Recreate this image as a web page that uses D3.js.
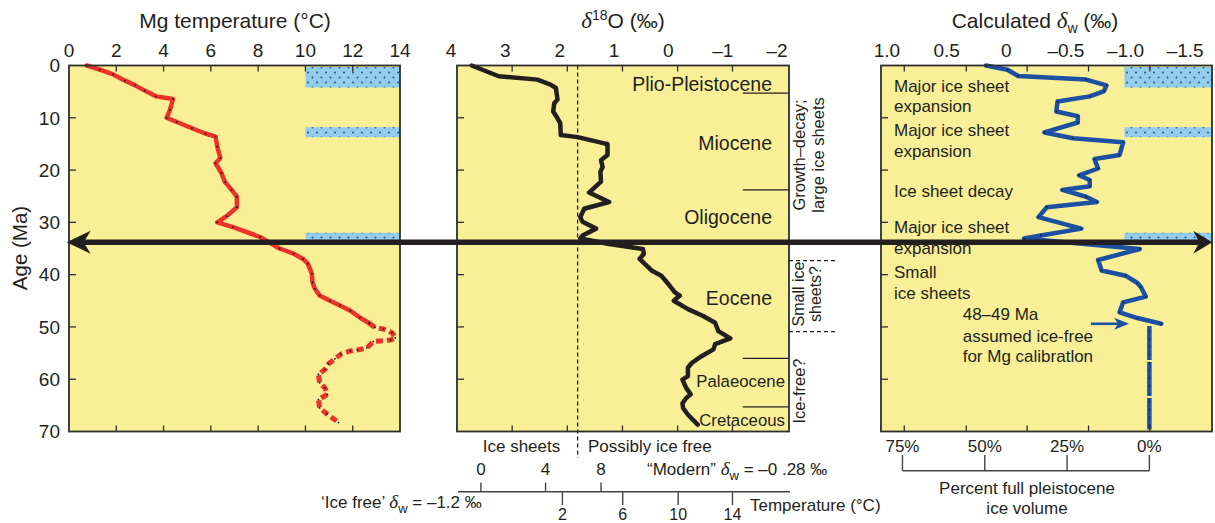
<!DOCTYPE html>
<html><head><meta charset="utf-8">
<script src="https://cdn.jsdelivr.net/npm/d3@7"></script>
<style>
body{margin:0;background:#fff}
svg{display:block}
text{font-family:"Liberation Sans",Arial,Helvetica,sans-serif;fill:#231f20}
.gr{font-family:"Liberation Serif","Times New Roman",serif;font-style:italic}
</style>
</head><body>
<svg id="c" width="1215" height="523"></svg>
<script>
// ---------------- DATA ----------------
const ageTicks = [0,10,20,30,40,50,60,70];
const mgTickLabels = [0,2,4,6,8,10,12,14];
const mgInnerTicks = [2,4,6,8,10,12];
const d18TickLabels = [4,3,2,1,0,-1,-2];
const d18TickMarks = [2.875,1.86,0.845,-0.17,-1.18];
const dwTickLabels = [1.0,0.5,0,-0.5,-1.0,-1.5];
const dwTickMarks = [0.855,0.335,-0.175,-0.69,-1.205];

// Mg temperature (age Ma, temperature °C)
const mgAge = [0,0.8,1.7,2.9,3.8,4.8,5.9,6.4,8.5,10,10.8,12,13,13.6,15.5,17.7,18.7,20.6,22.3,23.8,25.1,27.1,28.8,30,30.9,32.8,35,36,37,37.9,39.8,41.5,42.7,44,45,45.9,46.9,48.2,49.3];
const mgTemp = [0.75,1.3,1.87,2.37,2.8,3.2,3.68,4.4,4.27,4.13,4.56,5.2,5.76,6.2,6.27,6.4,6.2,6.45,6.6,6.88,7.1,7.1,6.67,6.27,6.94,8.08,8.9,9.5,9.9,10.1,10.27,10.3,10.4,10.6,11.04,11.46,11.9,12.3,12.7];
const mgAgeDashed = [49.3,50.1,50.4,51.1,52.1,52.5,52.8,54,54.4,54.6,55.2,56.1,57.1,58.1,59.1,60.7,61.7,62.9,63.9,65.5,66.6,68.3];
const mgTempDashed = [12.7,12.94,13.3,13.66,13.8,13.6,12.87,12.6,12.2,11.9,11.5,11.25,10.97,10.83,10.55,10.6,10.83,10.93,10.55,10.6,10.9,11.4];

// benthic d18O (age Ma, permil)
const d18Age = [0,2.05,2.7,3.65,4.3,6.5,7.2,8.8,10.1,11,13.3,13.7,14.9,15,17.1,18.1,19.4,20.3,22.2,24.3,26.1,27.4,29,29.9,31.2,32.5,33.1,34.1,35.1,36,37,39.2,40.2,41.8,43.4,44,45,46.6,47.9,49.2,50.8,52.2,53.3,54.3,55.6,56.9,57.8,59.4,60.1,61.7,62.9,63.6,64.6,65.5,66.8,68.7];
const d18Val = [3.62,3.12,2.41,2.17,2.07,2.04,2.1,2.12,2.04,1.99,1.98,1.67,1.18,1.12,1.12,1.24,1.21,1.25,1.24,1.46,1.09,1.55,1.62,1.58,1.33,1.58,1.62,1.12,0.47,0.45,0.53,0.31,0.13,0.0,-0.12,-0.21,-0.1,-0.36,-0.64,-0.86,-0.92,-1.14,-0.86,-0.83,-0.61,-0.43,-0.36,-0.36,-0.26,-0.33,-0.41,-0.33,-0.26,-0.27,-0.36,-0.54];
const iceFreeD18 = 1.67;

// calculated dw (age Ma, permil)
const dwAge = [0,0.8,2,2.7,3.8,4.9,5.9,6.9,8.8,9.7,10.9,12.8,13.9,14.7,17.1,17.9,19.7,21,21.9,23.1,23.8,25.1,26.1,27.1,29,31.2,32.5,33.1,35.1,37.2,39.2,40.2,41.6,42.4,44.2,45.3,47.2,48.3,49.4];
const dwVal = [0.17,-0.01,-0.1,-0.67,-0.84,-0.82,-0.70,-0.43,-0.42,-0.6,-0.6,-0.32,-0.56,-0.98,-0.95,-0.74,-0.77,-0.61,-0.70,-0.70,-0.47,-0.67,-0.76,-0.34,-0.27,-0.63,-0.29,-0.15,-1.12,-0.77,-0.8,-1.0,-1.1,-1.13,-1.17,-0.98,-0.95,-1.1,-1.3];
const dwIceFreeAge = [49.8,69.6];
const dwIceFree = -1.2;

// ice-sheet expansion bars (age ranges)
const iceBarStart = [0.3,11.8,32.0];
const iceBarEnd = [4.2,13.7,34.0];

// epochs
const epochNames = ["Plio-Pleistocene","Miocene","Oligocene","Eocene","Palaeocene","Cretaceous"];
const epochLabelAge = [3.5,14.9,29.0,44.5,60.4,67.7];
const epochBoundaries = [5.3,23.8,33.9,56,65.3];

// temperature scales under d18O panel (temp and equivalent d18O)
const modernTemps = [0,4,8];
const modernTempD18 = [3.45,2.26,1.24];
const iceFreeTemps = [2,6,10,14];
const iceFreeTempD18 = [1.95,0.84,-0.18,-1.18];

// percent ice volume
const pctTicks = [75,50,25,0];
const eoceneAge = 33.8;

// ---------------- SCALES ----------------
const svg = d3.select("#c");
const y = d3.scaleLinear().domain([0,70]).range([65.5,431.5]);
const xMg = d3.scaleLinear().domain([0,14]).range([69,400]);
const xO = d3.scaleLinear().domain([3.89,-2.22]).range([457,789]);
const xW = d3.scaleLinear().domain([1.05,-1.725]).range([881,1212]);
const pctToDw = d3.scaleLinear().domain([0,100]).range([-1.2,1.56]);

const YEL = "#f9ef96", INK = "#231f20", RED = "#ec3327", BLUE = "#1c50a2", EDGE="#2e2e2e";

const defs = svg.append("defs");
const pat = defs.append("pattern").attr("id","dots").attr("patternUnits","userSpaceOnUse").attr("width",9).attr("height",10);
pat.append("rect").attr("width",9).attr("height",10).attr("fill","#93cdec");
pat.append("circle").attr("cx",2).attr("cy",2.5).attr("r",1).attr("fill","#1d4f9c");
pat.append("circle").attr("cx",6.5).attr("cy",7.5).attr("r",1).attr("fill","#1d4f9c");

const panels = [xMg, xO, xW];
panels.forEach(sx => {
  const r = sx.range();
  svg.append("rect").attr("x",r[0]).attr("y",y(0)).attr("width",r[1]-r[0]).attr("height",y(70)-y(0)).attr("fill",YEL);
});

// ice bars
iceBarStart.forEach((a,i)=>{
  svg.append("rect").attr("x",xMg(10)).attr("y",y(a)).attr("width",xMg.range()[1]-xMg(10)).attr("height",y(iceBarEnd[i])-y(a)).attr("fill","url(#dots)");
  svg.append("rect").attr("x",xW(-0.99)).attr("y",y(a)).attr("width",xW.range()[1]-xW(-0.99)).attr("height",y(iceBarEnd[i])-y(a)).attr("fill","url(#dots)");
});

// epoch boundaries
epochBoundaries.forEach(a=>{
  svg.append("line").attr("x1",xO(-1.37)).attr("x2",xO.range()[1]).attr("y1",y(a)).attr("y2",y(a)).attr("stroke",INK).attr("stroke-width",1.2);
});
epochNames.forEach((n,i)=>{
  const small = i>=4;
  svg.append("text").attr("x", small?785:772).attr("y",y(epochLabelAge[i])).attr("dy","0.36em")
    .attr("text-anchor","end").attr("font-size", small?16.8:19.5).text(n);
});

// ice-free dashed threshold
svg.append("line").attr("x1",xO(iceFreeD18)).attr("x2",xO(iceFreeD18)).attr("y1",y(0)).attr("y2",458)
  .attr("stroke",INK).attr("stroke-width",1.3).attr("stroke-dasharray","4,3");

// ---------------- CURVES ----------------
function drawCurve(ages, vals, sx, color, w, dash){
  const pts = ages.map((a,i)=>[sx(vals[i]), y(a)]);
  const p = svg.append("path").attr("d", d3.line()(pts)).attr("fill","none").attr("stroke",color)
    .attr("stroke-width",w).attr("stroke-linejoin","round");
  if(dash) p.attr("stroke-dasharray",dash); else p.attr("stroke-linecap","round");
  return pts;
}
const mgPts = drawCurve(mgAge, mgTemp, xMg, RED, 4.5, null);
const mgPts2 = drawCurve(mgAgeDashed, mgTempDashed, xMg, RED, 5, "7,4");
mgPts.concat(mgPts2).forEach(p=>svg.append("circle").attr("cx",p[0]).attr("cy",p[1]).attr("r",0.9).attr("fill","#111"));

drawCurve(d18Age, d18Val, xO, INK, 4.5, null);

const dwPts = drawCurve(dwAge, dwVal, xW, BLUE, 4.5, null);
drawCurve(dwIceFreeAge, [dwIceFree,dwIceFree], xW, BLUE, 4.5, "34,2");
dwPts.forEach(p=>svg.append("circle").attr("cx",p[0]).attr("cy",p[1]).attr("r",0.9).attr("fill","#0b1f40"));
d3.range(dwIceFreeAge[0]+1, dwIceFreeAge[1], 1.5).forEach(a=>svg.append("circle").attr("cx",xW(dwIceFree)).attr("cy",y(a)).attr("r",0.7).attr("fill","#0b1f40"));

// ---------------- FRAMES & TICKS ----------------
panels.forEach(sx=>{
  const r = sx.range();
  svg.append("rect").attr("x",r[0]).attr("y",y(0)).attr("width",r[1]-r[0]).attr("height",y(70)-y(0))
    .attr("fill","none").attr("stroke",EDGE).attr("stroke-width",1.8);
  ageTicks.slice(1,-1).forEach(a=>{
    svg.append("line").attr("x1",r[0]).attr("x2",r[0]+7).attr("y1",y(a)).attr("y2",y(a)).attr("stroke",EDGE).attr("stroke-width",1.3);
  });
});
function xTicks(sx, vals){
  vals.forEach(v=>{
    [[y(0),y(0)+6],[y(70),y(70)-6]].forEach(([a,b])=>svg.append("line").attr("x1",sx(v)).attr("x2",sx(v)).attr("y1",a).attr("y2",b).attr("stroke",EDGE).attr("stroke-width",1.3));
  });
}
xTicks(xMg, mgInnerTicks);
xTicks(xO, d18TickMarks);
xTicks(xW, dwTickMarks);

// axis labels
const fmtMinus = v => (v<0? "\u2013"+Math.abs(v) : ""+v);
ageTicks.forEach(a=>svg.append("text").attr("x",60).attr("y",y(a)).attr("dy","0.36em").attr("text-anchor","end").attr("font-size",19).text(a));
mgTickLabels.forEach(v=>svg.append("text").attr("x",xMg(v)).attr("y",57).attr("text-anchor","middle").attr("font-size",19).text(v));
d18TickLabels.forEach(v=>svg.append("text").attr("x",xO(v)).attr("y",57).attr("text-anchor","middle").attr("font-size",19).text(fmtMinus(v)));
dwTickLabels.forEach(v=>svg.append("text").attr("x",xW(v)).attr("y",57).attr("text-anchor","middle").attr("font-size",19)
  .text(v<0? "\u2013"+Math.abs(v).toFixed(1) : (v===0?"0":v.toFixed(1))));

svg.append("text").attr("transform","translate(27,248) rotate(-90)").attr("text-anchor","middle").attr("font-size",20.5).text("Age (Ma)");

// titles
svg.append("text").attr("x",235).attr("y",28).attr("text-anchor","middle").attr("font-size",21).text("Mg temperature (\u00B0C)");
const t2 = svg.append("text").attr("x",623).attr("y",28).attr("text-anchor","middle").attr("font-size",21);
t2.append("tspan").attr("class","gr").attr("font-size",23).text("\u03B4");
t2.append("tspan").attr("font-size",14).attr("dy",-8).text("18");
t2.append("tspan").attr("dy",8).text("O (\u2030)");
const t3 = svg.append("text").attr("x",1035).attr("y",28).attr("text-anchor","middle").attr("font-size",21);
t3.append("tspan").text("Calculated ");
t3.append("tspan").attr("class","gr").attr("font-size",23).text("\u03B4");
t3.append("tspan").attr("font-size",14).attr("dy",5).text("w");
t3.append("tspan").attr("dy",-5).text(" (\u2030)");

// rotated side labels
function rot(x, yc, txt, fs){ svg.append("text").attr("transform",`translate(${x},${yc}) rotate(-90)`).attr("text-anchor","middle").attr("font-size",fs).text(txt); }
rot(805,155,"Growth\u2013decay;",16.5);
rot(824,155,"large ice sheets",16.5);
rot(804,294,"Small ice",16);
rot(821,294,"sheets?",16);
rot(805,391,"Ice-free?",16.5);
[37.3,50.9].forEach(a=>svg.append("line").attr("x1",xO.range()[1]).attr("x2",835).attr("y1",y(a)).attr("y2",y(a))
  .attr("stroke",INK).attr("stroke-width",1.3).attr("stroke-dasharray","4,3"));

// below middle panel
svg.append("text").attr("x",521.5).attr("y",452).attr("text-anchor","middle").attr("font-size",17).text("Ice sheets");
svg.append("text").attr("x",588).attr("y",452).attr("font-size",17).text("Possibly ice free");
svg.append("line").attr("x1",xO.range()[0]+1).attr("x2",xO.range()[1]+1).attr("y1",491.7).attr("y2",491.7).attr("stroke","#444").attr("stroke-width",1.4);
modernTemps.forEach((t,i)=>{
  const xx = xO(modernTempD18[i]);
  svg.append("line").attr("x1",xx).attr("x2",xx).attr("y1",482.5).attr("y2",491.7).attr("stroke","#444").attr("stroke-width",1.4);
  svg.append("text").attr("x",xx).attr("y",474.5).attr("text-anchor","middle").attr("font-size",17).text(t);
});
iceFreeTemps.forEach((t,i)=>{
  const xx = xO(iceFreeTempD18[i]);
  svg.append("line").attr("x1",xx).attr("x2",xx).attr("y1",491.7).attr("y2",505).attr("stroke","#444").attr("stroke-width",1.4);
  svg.append("text").attr("x",xx).attr("y",520).attr("text-anchor","middle").attr("font-size",16).text(t);
});
const m1 = svg.append("text").attr("x",647).attr("y",474.5).attr("font-size",17);
m1.append("tspan").text("\u201CModern\u201D ");
m1.append("tspan").attr("class","gr").attr("font-size",19).text("\u03B4");
m1.append("tspan").attr("font-size",13).attr("dy",5).text("w");
m1.append("tspan").attr("dy",-5).text(" = \u20130 .28 \u2030");
const m2 = svg.append("text").attr("x",321).attr("y",508).attr("font-size",17);
m2.append("tspan").text("\u2018Ice free\u2019 ");
m2.append("tspan").attr("class","gr").attr("font-size",19).text("\u03B4");
m2.append("tspan").attr("font-size",13).attr("dy",5).text("w");
m2.append("tspan").attr("dy",-5).text(" = \u20131.2 \u2030");
svg.append("text").attr("x",750).attr("y",511).attr("font-size",17).text("Temperature (\u00B0C)");

// right panel notes
const notes = [["Major ice sheet",92],["expansion",112],["Major ice sheet",136],["expansion",156.7],["Ice sheet decay",197],
  ["Major ice sheet",233.3],["expansion",254],["Small",278.3],["ice sheets",299]];
notes.forEach(n=>svg.append("text").attr("x",894).attr("y",n[1]).attr("font-size",17).text(n[0]));
[["48\u201349 Ma",320],["assumed ice-free",341.7],["for Mg calibratlon",361.7]].forEach(n=>
  svg.append("text").attr("x",962.7).attr("y",n[1]).attr("font-size",17).text(n[0]));

// blue arrow
{
  const ya = y(49.4), x0 = xW(-0.71), x1 = xW(-1.03);
  svg.append("line").attr("x1",x0).attr("x2",x1-10).attr("y1",ya).attr("y2",ya).attr("stroke",BLUE).attr("stroke-width",2.6);
  svg.append("path").attr("d",`M${x1},${ya} L${x1-15},${ya-6} L${x1-11},${ya} L${x1-15},${ya+6} Z`).attr("fill",BLUE);
}

// percent ice volume bracket
const px = p => xW(pctToDw(p));
svg.append("line").attr("x1",px(75)).attr("x2",px(0)).attr("y1",470.7).attr("y2",470.7).attr("stroke","#444").attr("stroke-width",1.4);
pctTicks.forEach(p=>{
  svg.append("line").attr("x1",px(p)).attr("x2",px(p)).attr("y1",455).attr("y2",470.7).attr("stroke","#444").attr("stroke-width",1.4);
  svg.append("text").attr("x",px(p)).attr("y",452).attr("text-anchor","middle").attr("font-size",17).text(p+"%");
});
svg.append("text").attr("x",1027).attr("y",494).attr("text-anchor","middle").attr("font-size",17).text("Percent full pleistocene");
svg.append("text").attr("x",1027).attr("y",514).attr("text-anchor","middle").attr("font-size",17).text("ice volume");

// big Eocene-Oligocene arrow
{
  const ya = y(eoceneAge), xl = xMg(-0.1), xr = xW(-1.727);
  svg.append("line").attr("x1",xl+12).attr("x2",xr-12).attr("y1",ya).attr("y2",ya).attr("stroke",INK).attr("stroke-width",5.5);
  svg.append("path").attr("d",`M${xl},${ya} L${xl+24},${ya-11.5} L${xl+17},${ya} L${xl+24},${ya+11.5} Z`).attr("fill",INK);
  svg.append("path").attr("d",`M${xr},${ya} L${xr-19},${ya-11.5} L${xr-13},${ya} L${xr-19},${ya+11.5} Z`).attr("fill",INK);
}
</script>
</body></html>
